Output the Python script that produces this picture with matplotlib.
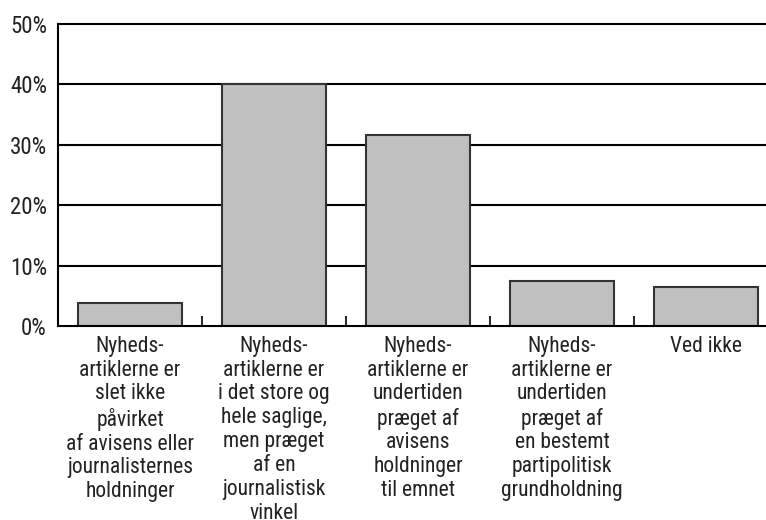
import matplotlib.pyplot as plt
from matplotlib import font_manager
import numpy as np

# Data
categories = [
    "Nyheds-\nartiklerne er\nslet ikke\npåvirket\naf avisens eller\njournalisternes\nholdninger",
    "Nyheds-\nartiklerne er\ni det store og\nhele saglige,\nmen præget\naf en\njournalistisk\nvinkel",
    "Nyheds-\nartiklerne er\nundertiden\npræget af\navisens\nholdninger\ntil emnet",
    "Nyheds-\nartiklerne er\nundertiden\npræget af\nen bestemt\npartipolitisk\ngrundholdning",
    "Ved ikke",
]
values = [3.8, 40.0, 31.7, 7.5, 6.5]
yticks = [0, 10, 20, 30, 40, 50]

# condensed look if available, else Arial-like
names = {f.name for f in font_manager.fontManager.ttflist}
family = 'Liberation Sans'
xsize, ysize = 14, 15
for cand in ['Roboto Condensed', 'Liberation Sans Narrow', 'Open Sans Condensed']:
    if cand in names:
        family = cand
        xsize, ysize = 15.5, 16.5
        break
plt.rcParams['font.family'] = [family, 'DejaVu Sans']

fig = plt.figure(figsize=(7.66, 5.2), dpi=100)
ax = fig.add_axes([58 / 766, 194 / 520, 720 / 766, 302 / 520])

x = np.arange(len(values))
ax.bar(x, values, width=104 / 144, color='#c0c0c0', edgecolor='#333333',
       linewidth=1.5, zorder=3)

for v in yticks[1:]:
    ax.axhline(v, color='black', linewidth=1.5, zorder=1, clip_on=False)

ax.set_xlim(-0.5, len(values) - 0.5)
ax.set_ylim(0, 50)
ax.set_yticks(yticks)
ax.set_yticklabels([f"{v}%" for v in yticks], fontsize=ysize, color='#222222')
ax.tick_params(axis='y', length=0, pad=8)

ax.set_xticks(x)
ax.set_xticklabels(categories, fontsize=xsize, color='#222222', linespacing=1.18,
                   va='top')
ax.tick_params(axis='x', which='major', length=0, pad=7)
ax.set_xticks(np.arange(0.5, len(values) - 0.5, 1), minor=True)
ax.tick_params(axis='x', which='minor', direction='in', length=7, width=1.2)

for side in ['top', 'right']:
    ax.spines[side].set_visible(False)
for side in ['left', 'bottom']:
    ax.spines[side].set_linewidth(1.5)
    ax.spines[side].set_zorder(4)

fig.savefig('out.png', dpi=100)
